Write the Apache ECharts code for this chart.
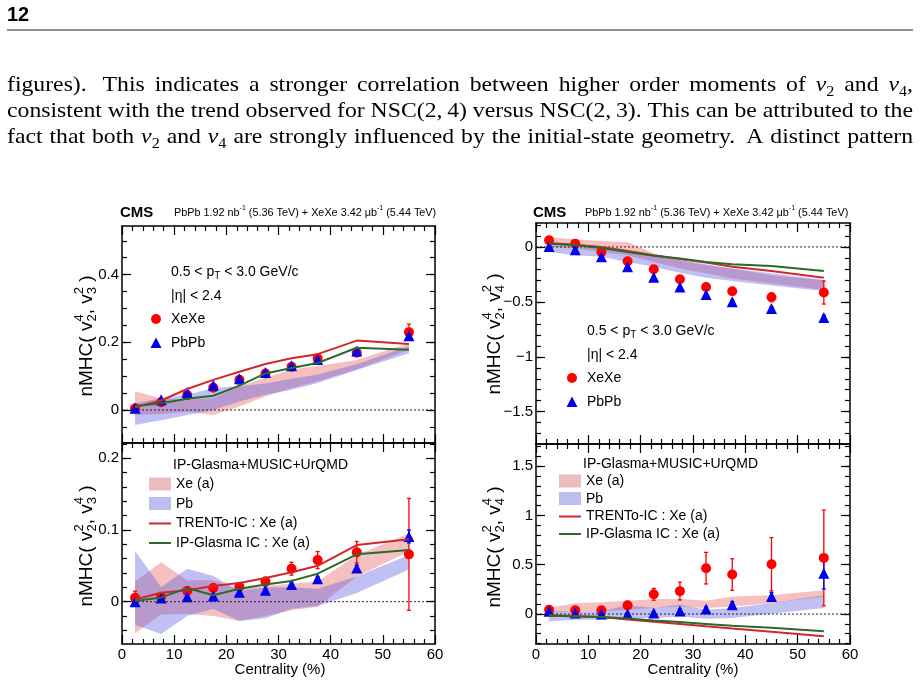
<!DOCTYPE html>
<html>
<head>
<meta charset="utf-8">
<script src="https://cdn.jsdelivr.net/npm/echarts@6/dist/echarts.min.js"></script>
<style>
html, body { margin: 0; padding: 0; background: #fff; }
#main { width: 920px; height: 686px; }
</style>
</head>
<body>
<div id="main"></div>
<script>
// centrality bins (%)
var cent = [2.5, 7.5, 12.5, 17.5, 22.5, 27.5, 32.5, 37.5, 45, 55];

// panel 1 : nMHC(v2^4, v3^2)
var p1Ticks = [0, 0.2, 0.4];
var p1Xe = [0.005, 0.023, 0.044, 0.066, 0.089, 0.108, 0.128, 0.153, 0.169, 0.230];
var p1XeErr = [0.004, 0.004, 0.004, 0.004, 0.004, 0.004, 0.005, 0.006, 0.007, 0.024];
var p1Pb = [0.005, 0.030, 0.052, 0.073, 0.092, 0.111, 0.131, 0.149, 0.174, 0.219];
var p1PbErr = [0.002, 0.002, 0.002, 0.003, 0.003, 0.003, 0.003, 0.004, 0.005, 0.010];
var p1Trento = [0.008, 0.028, 0.062, 0.089, 0.113, 0.136, 0.153, 0.165, 0.205, 0.195];
var p1Glasma = [0.012, 0.020, 0.033, 0.042, 0.072, 0.108, 0.124, 0.139, 0.184, 0.178];
var p1XeLo = [-0.015, -0.012, -0.005, -0.015, 0.010, 0.040, 0.065, 0.085, 0.120, 0.178];
var p1XeHi = [0.055, 0.035, 0.030, 0.035, 0.070, 0.095, 0.120, 0.130, 0.148, 0.197];
var p1PbLo = [-0.044, -0.030, -0.015, 0.000, 0.025, 0.045, 0.060, 0.080, 0.118, 0.168];
var p1PbHi = [0.020, 0.035, 0.045, 0.065, 0.070, 0.078, 0.092, 0.105, 0.135, 0.188];

// panel 2 : nMHC(v2^2, v3^4)
var p2Ticks = [0, 0.1, 0.2];
var p2Xe = [0.0056, 0.007, 0.015, 0.019, 0.021, 0.028, 0.046, 0.058, 0.069, 0.066];
var p2XeErr = [0.009, 0.005, 0.006, 0.006, 0.005, 0.006, 0.009, 0.012, 0.015, 0.078];
var p2Pb = [0.000, 0.005, 0.007, 0.008, 0.013, 0.016, 0.024, 0.032, 0.047, 0.091];
var p2PbErr = [0.002, 0.002, 0.002, 0.002, 0.002, 0.002, 0.003, 0.003, 0.004, 0.009];
var p2Trento = [0.003, 0.0125, 0.016, 0.022, 0.026, 0.033, 0.041, 0.050, 0.079, 0.087];
var p2Glasma = [0.001, 0.006, 0.019, 0.009, 0.018, 0.024, 0.029, 0.039, 0.066, 0.072];
var p2XeLo = [-0.044, -0.018, -0.017, -0.020, -0.027, -0.020, -0.012, -0.007, 0.035, 0.070];
var p2XeHi = [0.028, 0.055, 0.030, 0.030, 0.018, 0.022, 0.025, 0.028, 0.065, 0.095];
var p2PbLo = [-0.032, -0.045, -0.020, -0.010, -0.027, -0.023, -0.010, -0.006, 0.012, 0.045];
var p2PbHi = [0.071, 0.020, 0.046, 0.036, 0.015, 0.020, 0.020, 0.018, 0.035, 0.065];

// panel 3 : nMHC(v2^4, v4^2)
var p3Ticks = [-1.5, -1, -0.5, 0];
var p3Xe = [0.060, 0.030, -0.045, -0.130, -0.203, -0.294, -0.364, -0.403, -0.458, -0.415];
var p3XeErr = [0.02, 0.02, 0.02, 0.02, 0.02, 0.02, 0.025, 0.03, 0.04, 0.105];
var p3Pb = [0.005, -0.025, -0.090, -0.180, -0.275, -0.364, -0.433, -0.500, -0.560, -0.642];
var p3PbErr = [0.01, 0.01, 0.01, 0.01, 0.01, 0.01, 0.01, 0.015, 0.015, 0.02];
var p3Trento = [0.036, 0.020, 0.000, -0.036, -0.076, -0.110, -0.142, -0.180, -0.218, -0.280];
var p3Glasma = [0.030, 0.015, -0.010, -0.045, -0.080, -0.106, -0.136, -0.158, -0.173, -0.218];
var p3XeLo = [0.000, -0.015, -0.045, -0.076, -0.136, -0.197, -0.240, -0.288, -0.333, -0.390];
var p3XeHi = [0.090, 0.070, 0.055, 0.045, -0.060, -0.120, -0.167, -0.197, -0.257, -0.303];
var p3PbLo = [-0.045, -0.076, -0.090, -0.136, -0.180, -0.236, -0.280, -0.310, -0.350, -0.400];
var p3PbHi = [0.015, 0.000, -0.015, -0.030, -0.076, -0.120, -0.158, -0.197, -0.240, -0.300];

// panel 4 : nMHC(v2^2, v4^4)
var p4Ticks = [0, 0.5, 1, 1.5];
var p4Xe = [0.044, 0.037, 0.037, 0.088, 0.200, 0.232, 0.465, 0.400, 0.505, 0.569];
var p4XeErr = [0.02, 0.02, 0.02, 0.04, 0.06, 0.09, 0.16, 0.16, 0.27, 0.485];
var p4Pb = [0.027, 0.010, 0.000, 0.000, 0.010, 0.030, 0.050, 0.094, 0.178, 0.414];
var p4PbErr = [0.01, 0.01, 0.01, 0.01, 0.01, 0.02, 0.02, 0.03, 0.04, 0.16];
var p4Trento = [-0.013, -0.020, -0.030, -0.055, -0.078, -0.100, -0.125, -0.148, -0.180, -0.225];
var p4Glasma = [-0.015, -0.025, -0.030, -0.045, -0.065, -0.080, -0.100, -0.120, -0.140, -0.175];
var p4XeLo = [0.010, 0.027, 0.027, 0.044, 0.060, 0.077, 0.060, 0.077, 0.110, 0.178];
var p4XeHi = [0.060, 0.110, 0.120, 0.135, 0.150, 0.155, 0.135, 0.178, 0.190, 0.240];
var p4PbLo = [-0.074, -0.057, -0.057, -0.040, -0.040, -0.024, -0.047, -0.040, 0.003, 0.060];
var p4PbHi = [0.027, 0.027, 0.027, 0.088, 0.060, 0.094, 0.044, 0.060, 0.110, 0.190];

var SANS = '"Liberation Sans", Arial, Helvetica, sans-serif';
var SERIF = '"Liberation Serif", "Times New Roman", serif';
var XE_COLOR = '#ff0000';
var PB_COLOR = '#0000ee';
var XE_BAND = 'rgba(225,90,90,0.38)';
var PB_BAND = 'rgba(90,90,225,0.38)';
var TRENTO = '#d02828';
var GLASMA = '#2a6a2a';

var panels = [
    {grid: {left: 122, top: 226, width: 313, height: 217}, yMin: -0.0975, yMax: 0.5436, ticks: p1Ticks, minorStep: 0.05, xLabels: false,
     xe: p1Xe, xeErr: p1XeErr, pb: p1Pb, pbErr: p1PbErr, trento: p1Trento, glasma: p1Glasma, xeLo: p1XeLo, xeHi: p1XeHi, pbLo: p1PbLo, pbHi: p1PbHi},
    {grid: {left: 122, top: 443, width: 313, height: 201}, yMin: -0.059, yMax: 0.2213, ticks: p2Ticks, minorStep: 0.02, xLabels: true,
     xe: p2Xe, xeErr: p2XeErr, pb: p2Pb, pbErr: p2PbErr, trento: p2Trento, glasma: p2Glasma, xeLo: p2XeLo, xeHi: p2XeHi, pbLo: p2PbLo, pbHi: p2PbHi},
    {grid: {left: 536, top: 223, width: 314, height: 221}, yMin: -1.794, yMax: 0.218, ticks: p3Ticks, minorStep: 0.1, xLabels: false,
     xe: p3Xe, xeErr: p3XeErr, pb: p3Pb, pbErr: p3PbErr, trento: p3Trento, glasma: p3Glasma, xeLo: p3XeLo, xeHi: p3XeHi, pbLo: p3PbLo, pbHi: p3PbHi},
    {grid: {left: 536, top: 444, width: 314, height: 200}, yMin: -0.304, yMax: 1.724, ticks: p4Ticks, minorStep: 0.1, xLabels: true,
     xe: p4Xe, xeErr: p4XeErr, pb: p4Pb, pbErr: p4PbErr, trento: p4Trento, glasma: p4Glasma, xeLo: p4XeLo, xeHi: p4XeHi, pbLo: p4PbLo, pbHi: p4PbHi}
];

//text measuring helpers-----------------------------------------------------------------------
var mctx = document.createElement('canvas').getContext('2d');
function segWidth(s) {
    mctx.font = (s.italic ? 'italic ' : '') + (s.bold ? 'bold ' : '') + s.size + 'px ' + s.family;
    return mctx.measureText(s.t).width * (s.sx || 1);
}
// parts: strings, {t, italic} or {sup, sub}
function layout(parts, base) {
    var x = 0, items = [], sx = base.sx || 1;
    parts.forEach(function (p) {
        if (typeof p === 'string') p = {t: p};
        if (p.t != null) {
            var it = {t: p.t, x: x, dy: 0, size: base.size, italic: p.italic, bold: base.bold, family: base.family, sx: sx};
            items.push(it);
            x += segWidth(it);
        } else {
            var small = Math.round(base.size * (base.small || 0.7)), w = 0;
            if (p.sup != null) {
                var a = {t: p.sup, x: x, dy: -base.size * 0.42, size: small, family: base.family, sx: sx};
                items.push(a);
                w = Math.max(w, segWidth(a));
            }
            if (p.sub != null) {
                var b = {t: p.sub, x: x, dy: base.size * (base.subDy || 0.3), size: small, family: base.family, sx: sx};
                items.push(b);
                w = Math.max(w, segWidth(b));
            }
            x += w;
        }
    });
    return {items: items, width: x};
}
function textEls(lay, x0, y0, color) {
    return lay.items.map(function (it) {
        return {
            type: 'text', x: x0 + it.x, y: y0 + it.dy, scaleX: it.sx || 1, silent: true,
            style: {
                text: it.t, fill: color || '#000', fontSize: it.size, fontFamily: it.family,
                fontStyle: it.italic ? 'italic' : 'normal', fontWeight: it.bold ? 'bold' : 'normal',
                align: 'left', verticalAlign: 'middle', textAlign: 'left', textVerticalAlign: 'middle'
            }
        };
    });
}
function label(parts, x, y, size, opts) {
    opts = opts || {};
    var lay = layout(parts, {size: size, family: opts.family || SANS, bold: opts.bold});
    var x0 = opts.center ? x - lay.width / 2 : x;
    return textEls(lay, x0, y, opts.color);
}

//justified paragraph--------------------------------------------------------------------------
var PARA_LEFT = 7, PARA_RIGHT = 913, PARA_SIZE = 22;
function parseWord(w) {
    if (w.charAt(0) === '$') {
        var parts = [{t: 'v', italic: true}, {sub: w.charAt(2)}];
        if (w.length > 3) parts.push(w.slice(3));
        return parts;
    }
    return [w];
}
function splitLine(str) {
    var raw = str.split(' '), words = [], weights = [], pending = 0;
    raw.forEach(function (p) {
        if (p === '') { pending += 0.6; return; }
        if (words.length) weights.push(1 + pending);
        pending = 0;
        words.push(p);
    });
    return {words: words, weights: weights};
}
function lineLayouts(words, size, sx) {
    return words.map(function (w) {
        return layout(parseWord(w), {size: size, family: SERIF, small: 0.68, subDy: 0.32, sx: sx});
    });
}
function naturalWidth(str, size) {
    var sp = splitLine(str);
    var w = 0;
    lineLayouts(sp.words, size, 1).forEach(function (l) { w += l.width; });
    var space = segWidth({t: ' ', size: size, family: SERIF});
    sp.weights.forEach(function (k) { w += k * space; });
    return w;
}
function justify(str, y, size, sx) {
    var sp = splitLine(str);
    var lays = lineLayouts(sp.words, size, sx);
    var total = 0, wsum = 0;
    lays.forEach(function (l) { total += l.width; });
    sp.weights.forEach(function (w) { wsum += w; });
    var unit = (PARA_RIGHT - PARA_LEFT - total) / wsum;
    var x = PARA_LEFT, els = [];
    lays.forEach(function (l, i) {
        els = els.concat(textEls(l, x, y));
        x += l.width + (sp.weights[i] || 0) * unit;
    });
    return els;
}

var paraLines = [
    'figures).  This indicates a stronger correlation between higher order moments of $v2 and $v4,',
    'consistent with the trend observed for NSC(2,\u20094) versus NSC(2,\u20093). This can be attributed to the',
    'fact that both $v2 and $v4 are strongly influenced by the initial-state geometry.  A distinct pattern'
];

//graphic annotations--------------------------------------------------------------------------
var graphics = [];
graphics = graphics.concat(label(['12'], 7, 15, 20, {bold: true}));
graphics.push({type: 'line', silent: true, shape: {x1: 7, y1: 30, x2: 913, y2: 30}, style: {stroke: '#222', lineWidth: 1.2}});
var paraScale = Infinity;
paraLines.forEach(function (s) {
    paraScale = Math.min(paraScale, (PARA_RIGHT - PARA_LEFT) / naturalWidth(s, PARA_SIZE));
});
paraLines.forEach(function (s, i) {
    graphics = graphics.concat(justify(s, 85 + i * 26, PARA_SIZE, paraScale));
});

function lumi(x, y, width) {
    var parts = ['PbPb 1.92 nb', {sup: '-1'}, ' (5.36 TeV) + XeXe 3.42 \u03bcb', {sup: '-1'}, ' (5.44 TeV)'];
    var w = layout(parts, {size: 11, family: SANS}).width;
    var size = 11 * width / w;
    var lay = layout(parts, {size: size, family: SANS, small: 0.68});
    return textEls(lay, x, y);
}
function dataLegend(x, y) {
    var els = [];
    els = els.concat(label(['0.5 < p', {sub: 'T'}, ' < 3.0 GeV/c'], x, y, 14));
    els = els.concat(label(['|\u03b7| < 2.4'], x, y + 24, 14));
    els.push({type: 'circle', silent: true, shape: {cx: x - 15, cy: y + 47, r: 5}, style: {fill: XE_COLOR}});
    els = els.concat(label(['XeXe'], x, y + 47, 14));
    els.push({type: 'polygon', silent: true, shape: {points: [[x - 15, y + 65.5], [x - 9.5, y + 76], [x - 20.5, y + 76]]}, style: {fill: PB_COLOR}});
    els = els.concat(label(['PbPb'], x, y + 71, 14));
    return els;
}
function modelLegend(x, y, step) {
    var els = [];
    var tx = x + 27;
    els = els.concat(label(['IP-Glasma+MUSIC+UrQMD'], x + 24, y, 14));
    els.push({type: 'rect', silent: true, shape: {x: x, y: y + step - 7, width: 22, height: 13}, style: {fill: '#edbcbc'}});
    els = els.concat(label(['Xe (a)'], tx, y + step, 14));
    els.push({type: 'rect', silent: true, shape: {x: x, y: y + 2 * step - 7, width: 22, height: 13}, style: {fill: '#bdbdee'}});
    els = els.concat(label(['Pb'], tx, y + 2 * step, 14));
    els.push({type: 'line', silent: true, shape: {x1: x, y1: y + 3 * step, x2: x + 22, y2: y + 3 * step}, style: {stroke: TRENTO, lineWidth: 2}});
    els = els.concat(label(['TRENTo-IC : Xe (a)'], tx, y + 3 * step, 14));
    els.push({type: 'line', silent: true, shape: {x1: x, y1: y + 4 * step, x2: x + 22, y2: y + 4 * step}, style: {stroke: GLASMA, lineWidth: 2}});
    els = els.concat(label(['IP-Glasma IC : Xe (a)'], tx, y + 4 * step, 14));
    return els;
}
function yTitle(parts, x, y) {
    var lay = layout(parts, {size: 19, family: SANS, small: 0.7});
    return {type: 'group', x: x, y: y, rotation: Math.PI / 2, silent: true, children: textEls(lay, -lay.width / 2, 0)};
}

// top-left
graphics = graphics.concat(label(['CMS'], 120, 213, 15, {bold: true}));
graphics = graphics.concat(lumi(174, 213, 264));
graphics = graphics.concat(dataLegend(171, 272));
graphics.push(yTitle(['nMHC( v', {sup: '4', sub: '2'}, ', v', {sup: '2', sub: '3'}, ' )'], 87, 336));
// bottom-left
graphics = graphics.concat(modelLegend(149, 465, 19.5));
graphics.push(yTitle(['nMHC( v', {sup: '2', sub: '2'}, ', v', {sup: '4', sub: '3'}, ' )'], 87, 546));
graphics = graphics.concat(label(['Centrality (%)'], 280, 670, 15, {center: true}));
// top-right
graphics = graphics.concat(label(['CMS'], 533, 213, 15, {bold: true}));
graphics = graphics.concat(lumi(585, 213, 265));
graphics = graphics.concat(dataLegend(587, 331));
graphics.push(yTitle(['nMHC( v', {sup: '4', sub: '2'}, ', v', {sup: '2', sub: '4'}, ' )'], 495, 334));
// bottom-right
graphics = graphics.concat(modelLegend(559, 464, 17.5));
graphics.push(yTitle(['nMHC( v', {sup: '2', sub: '2'}, ', v', {sup: '4', sub: '4'}, ' )'], 495, 547));
graphics = graphics.concat(label(['Centrality (%)'], 693, 670, 15, {center: true}));

//axes-----------------------------------------------------------------------------------------
function fmt(v) {
    var s = String(+v.toFixed(2));
    return v < 0 ? '\u2212' + s.slice(1) : s;
}
function minorValues(min, max, step) {
    var out = [];
    for (var k = Math.ceil(min / step - 1e-9); k * step <= max + 1e-9; k++) out.push(+(k * step).toFixed(4));
    return out;
}
var tickStyle = {color: '#000', width: 1.2};
var xAxes = [], yAxes = [], grids = [], series = [];

panels.forEach(function (p, g) {
    grids.push({left: p.grid.left, top: p.grid.top, width: p.grid.width, height: p.grid.height,
        containLabel: false, outerBoundsMode: 'none', show: false});
    ['bottom', 'top'].forEach(function (pos) {
        xAxes.push({
            type: 'value', gridIndex: g, position: pos, min: 0, max: 60, interval: 10,
            axisLine: {show: true, onZero: false, lineStyle: {color: '#000', width: 1.5}},
            axisTick: {show: true, inside: true, length: 9, lineStyle: tickStyle},
            minorTick: {show: true, splitNumber: 5, length: 5, lineStyle: tickStyle},
            axisLabel: {show: pos === 'bottom' && p.xLabels, margin: 3, color: '#000', fontSize: 15, fontFamily: SANS,
                showMinLabel: true, showMaxLabel: true},
            splitLine: {show: false}, minorSplitLine: {show: false}
        });
    });
    var minors = minorValues(p.yMin, p.yMax, p.minorStep);
    ['left', 'right'].forEach(function (pos) {
        yAxes.push({
            type: 'value', gridIndex: g, position: pos, min: p.yMin, max: p.yMax,
            axisLine: {show: true, onZero: false, lineStyle: {color: '#000', width: 1.5}},
            axisTick: {show: true, inside: true, length: 9, customValues: p.ticks, lineStyle: tickStyle},
            axisLabel: {show: pos === 'left', customValues: p.ticks, formatter: fmt, margin: 3,
                color: '#000', fontSize: 15, fontFamily: SANS},
            splitLine: {show: false}
        });
        yAxes.push({
            type: 'value', gridIndex: g, position: pos, min: p.yMin, max: p.yMax,
            axisLine: {show: false, onZero: false},
            axisTick: {show: true, inside: true, length: 5, customValues: minors, lineStyle: tickStyle},
            axisLabel: {show: false},
            splitLine: {show: false}
        });
    });

    var xi = g * 2, yi = g * 4;
    series.push(bandSeries(xi, yi, p.xeLo, p.xeHi, XE_BAND));
    series.push(bandSeries(xi, yi, p.pbLo, p.pbHi, PB_BAND));
    series.push({
        type: 'line', xAxisIndex: xi, yAxisIndex: yi, data: [[0, 0], [60, 0]], symbol: 'none', silent: true,
        lineStyle: {color: '#222', width: 1, type: [2, 2]}
    });
    series.push(lineSeries(xi, yi, p.trento, TRENTO));
    series.push(lineSeries(xi, yi, p.glasma, GLASMA));
    series.push(errSeries(xi, yi, p.xe, p.xeErr, XE_COLOR));
    series.push(errSeries(xi, yi, p.pb, p.pbErr, PB_COLOR));
    series.push(markerSeries(xi, yi, p.xe, 'circle', 10, XE_COLOR));
    series.push(markerSeries(xi, yi, p.pb, 'triangle', 11, PB_COLOR));
});

function pairs(vals) {
    return cent.map(function (x, i) { return [x, vals[i]]; });
}
function bandSeries(xi, yi, lo, hi, color) {
    var data = cent.map(function (x, i) { return [x, lo[i], hi[i]]; });
    return {
        type: 'custom', xAxisIndex: xi, yAxisIndex: yi, data: data, silent: true, encode: {x: 0, y: 1},
        renderItem: function (params, api) {
            if (params.dataIndex !== 0) return null;
            var pts = [], i;
            for (i = 0; i < data.length; i++) pts.push(api.coord([data[i][0], data[i][2]]));
            for (i = data.length - 1; i >= 0; i--) pts.push(api.coord([data[i][0], data[i][1]]));
            return {type: 'polygon', shape: {points: pts}, style: {fill: color}};
        }
    };
}
function lineSeries(xi, yi, vals, color) {
    return {
        type: 'line', xAxisIndex: xi, yAxisIndex: yi, data: pairs(vals), symbol: 'none', silent: true,
        lineStyle: {color: color, width: 2}
    };
}
function errSeries(xi, yi, vals, errs, color) {
    var data = cent.map(function (x, i) { return [x, vals[i], errs[i]]; });
    return {
        type: 'custom', xAxisIndex: xi, yAxisIndex: yi, data: data, silent: true, encode: {x: 0, y: 1},
        renderItem: function (params, api) {
            var x = api.value(0), y = api.value(1), e = api.value(2);
            var a = api.coord([x, y + e]), b = api.coord([x, y - e]);
            var st = {stroke: color, lineWidth: 1.3};
            return {
                type: 'group', children: [
                    {type: 'line', shape: {x1: a[0], y1: a[1], x2: b[0], y2: b[1]}, style: st},
                    {type: 'line', shape: {x1: a[0] - 2, y1: a[1], x2: a[0] + 2, y2: a[1]}, style: st},
                    {type: 'line', shape: {x1: b[0] - 2, y1: b[1], x2: b[0] + 2, y2: b[1]}, style: st}
                ]
            };
        }
    };
}
function markerSeries(xi, yi, vals, symbol, size, color) {
    return {
        type: 'scatter', xAxisIndex: xi, yAxisIndex: yi, data: pairs(vals), symbol: symbol, symbolSize: size,
        silent: true, itemStyle: {color: color, opacity: 1}
    };
}

var myChart = echarts.init(document.getElementById('main'));
var option = {
    animation: false,
    backgroundColor: '#fff',
    grid: grids,
    xAxis: xAxes,
    yAxis: yAxes,
    series: series,
    graphic: {elements: graphics}
};
myChart.setOption(option);
</script>
</body>
</html>
